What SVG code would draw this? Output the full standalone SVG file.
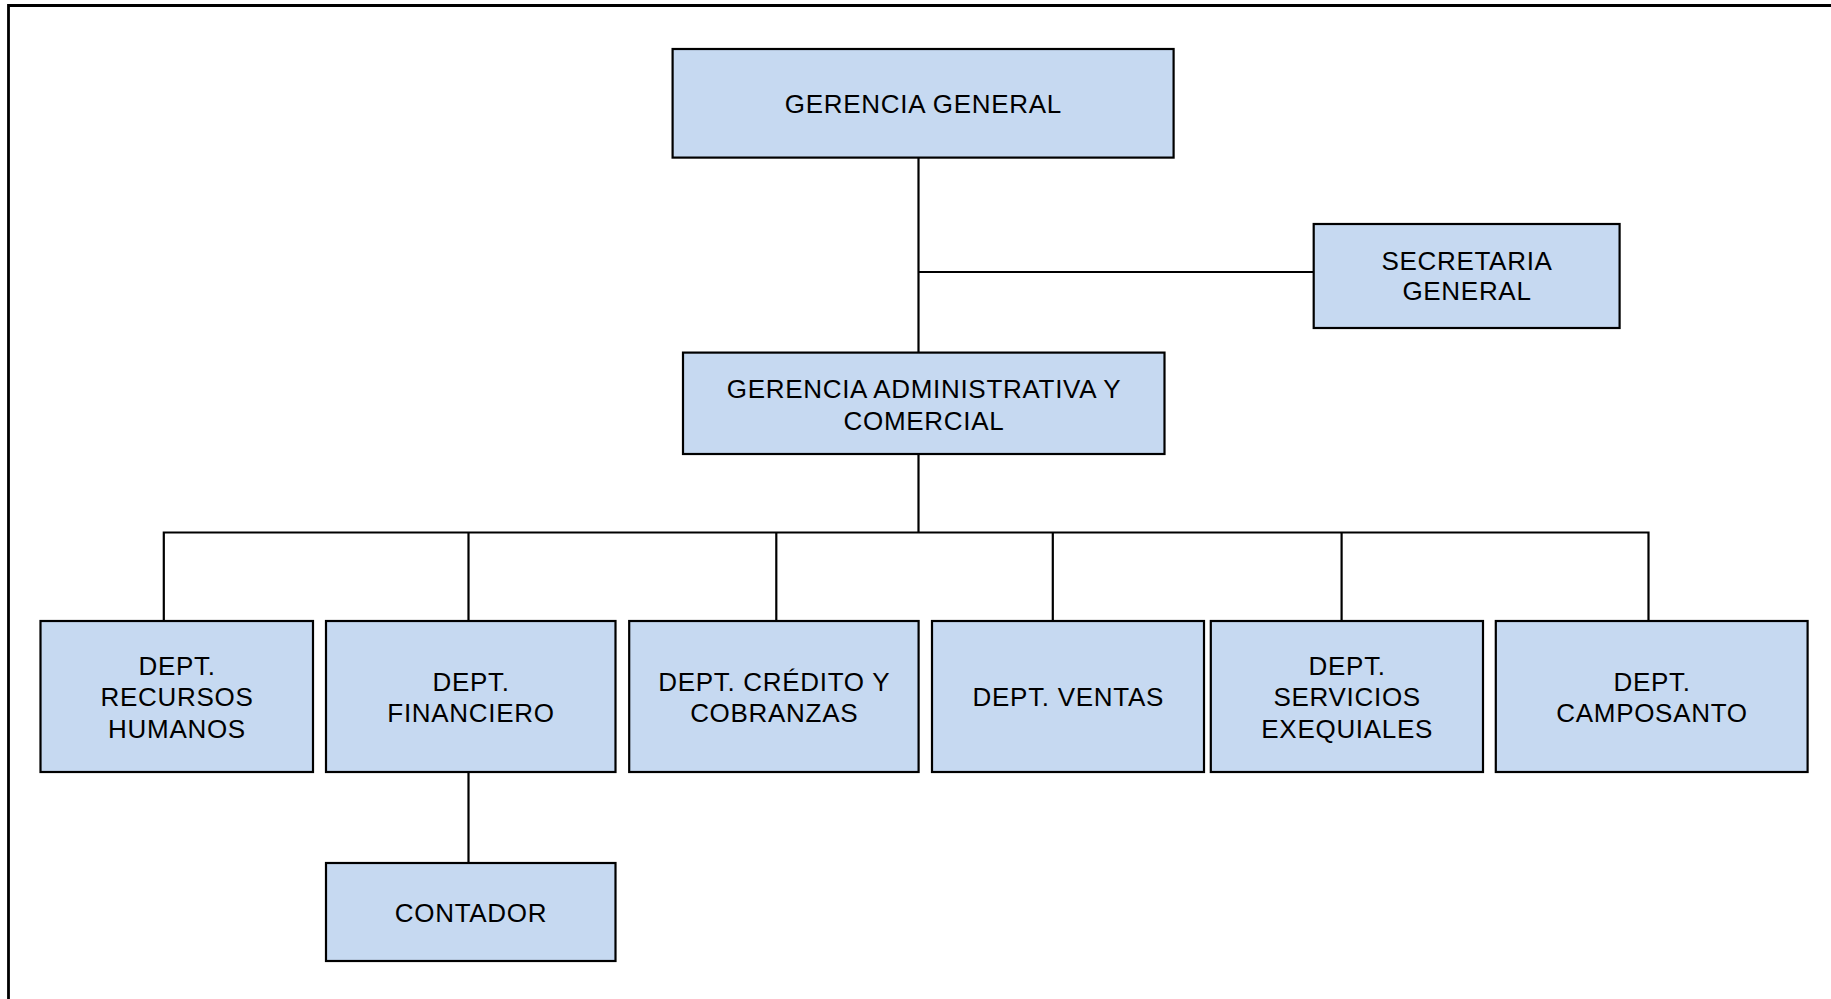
<svg xmlns="http://www.w3.org/2000/svg" width="1831" height="999" viewBox="0 0 1831 999">
<style>
.box{fill:#C6D9F1;stroke:#000;stroke-width:2.2}
.t{font-family:"Liberation Sans",Arial,sans-serif;font-size:26px;letter-spacing:0.7px;fill:#000;text-anchor:middle}
.c{fill:none;stroke:#000;stroke-width:2.2}
</style>
<rect width="1831" height="999" fill="#fff"/>
<path d="M8.5 1005 V5.5 H1840" fill="none" stroke="#000" stroke-width="2.8"/>
<g id="connectors">
<path class="c" d="M918.5 157.6 V352.6"/>
<path class="c" d="M918.5 272 H1313.7"/>
<path class="c" d="M918.5 454 V532.5"/>
<path class="c" d="M163.8 621 V532.5 H1648.5 V621"/>
<path class="c" d="M468.5 532.5 V621"/>
<path class="c" d="M776.3 532.5 V621"/>
<path class="c" d="M1052.8 532.5 V621"/>
<path class="c" d="M1341.6 532.5 V621"/>
<path class="c" d="M468.5 772 V863"/>
</g>
<g id="gerencia-general">
<rect class="box" x="672.6" y="49" width="501" height="108.6"/>
<text class="t" x="923.4" y="112.8">GERENCIA GENERAL</text>
</g>
<g id="secretaria-general">
<rect class="box" x="1313.7" y="224" width="305.9" height="104"/>
<text class="t" x="1467" y="269.8">SECRETARIA</text>
<text class="t" x="1467" y="300.3">GENERAL</text>
</g>
<g id="gerencia-administrativa">
<rect class="box" x="683" y="352.6" width="481.5" height="101.4"/>
<text class="t" x="924" y="398.4">GERENCIA ADMINISTRATIVA Y</text>
<text class="t" x="924" y="429.9">COMERCIAL</text>
</g>
<g id="dept-rrhh">
<rect class="box" x="40.5" y="621" width="272.5" height="151"/>
<text class="t" x="177" y="674.6">DEPT.</text>
<text class="t" x="177" y="706.1">RECURSOS</text>
<text class="t" x="177" y="737.6">HUMANOS</text>
</g>
<g id="dept-financiero">
<rect class="box" x="326" y="621" width="289.5" height="151"/>
<text class="t" x="471" y="691.1">DEPT.</text>
<text class="t" x="471" y="721.6">FINANCIERO</text>
</g>
<g id="dept-credito">
<rect class="box" x="629.2" y="621" width="289.4" height="151"/>
<text class="t" x="774.2" y="691.1">DEPT. CRÉDITO Y</text>
<text class="t" x="774.2" y="721.6">COBRANZAS</text>
</g>
<g id="dept-ventas">
<rect class="box" x="932" y="621" width="272" height="151"/>
<text class="t" x="1068.3" y="706.1">DEPT. VENTAS</text>
</g>
<g id="dept-servicios">
<rect class="box" x="1210.8" y="621" width="272.2" height="151"/>
<text class="t" x="1347.2" y="674.6">DEPT.</text>
<text class="t" x="1347.2" y="706.1">SERVICIOS</text>
<text class="t" x="1347.2" y="737.6">EXEQUIALES</text>
</g>
<g id="dept-camposanto">
<rect class="box" x="1495.8" y="621" width="311.8" height="151"/>
<text class="t" x="1652" y="691.1">DEPT.</text>
<text class="t" x="1652" y="721.6">CAMPOSANTO</text>
</g>
<g id="contador">
<rect class="box" x="326" y="863" width="289.5" height="98"/>
<text class="t" x="471" y="921.6">CONTADOR</text>
</g>
</svg>
